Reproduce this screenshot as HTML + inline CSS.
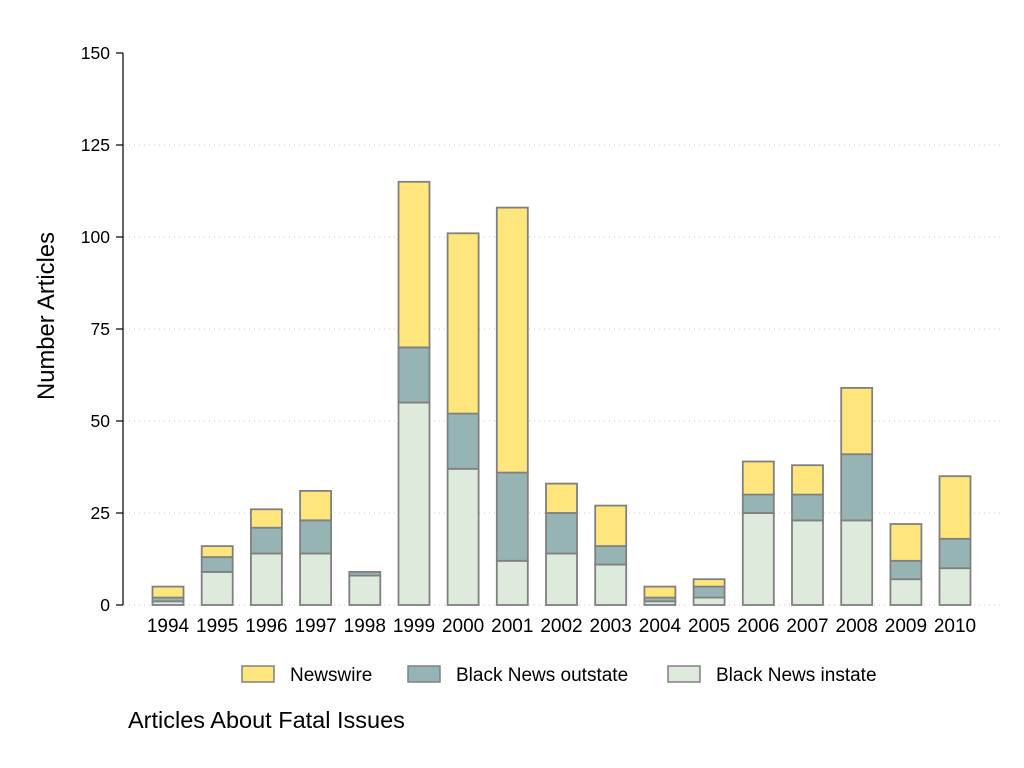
<!DOCTYPE html>
<html><head><meta charset="utf-8"><style>body{margin:0;background:#fff}svg{display:block}text{font-family:"Liberation Sans",Arial,sans-serif;fill:#000}</style></head>
<body>
<svg width="1024" height="768" viewBox="0 0 1024 768" xmlns="http://www.w3.org/2000/svg">
<rect width="1024" height="768" fill="#fff"/>
<g stroke="#c8c8c8" stroke-width="1" stroke-dasharray="1,4">
<line x1="124" x2="1000" y1="605" y2="605"/><line x1="124" x2="1000" y1="513" y2="513"/><line x1="124" x2="1000" y1="421" y2="421"/><line x1="124" x2="1000" y1="329" y2="329"/><line x1="124" x2="1000" y1="237" y2="237"/><line x1="124" x2="1000" y1="145" y2="145"/>
</g>
<g stroke="#000" stroke-width="1.2">
<line x1="123" x2="123" y1="53" y2="605"/>
<line x1="116" x2="123" y1="53" y2="53"/><line x1="116" x2="123" y1="145" y2="145"/><line x1="116" x2="123" y1="237" y2="237"/><line x1="116" x2="123" y1="329" y2="329"/><line x1="116" x2="123" y1="421" y2="421"/><line x1="116" x2="123" y1="513" y2="513"/><line x1="116" x2="123" y1="605" y2="605"/>
</g>
<g font-size="17.5" text-anchor="end">
<text x="110" y="59">150</text><text x="110" y="151">125</text><text x="110" y="243">100</text><text x="110" y="335">75</text><text x="110" y="427">50</text><text x="110" y="519">25</text><text x="110" y="611">0</text>
</g>
<text transform="translate(54,316) rotate(-90)" font-size="23.8" text-anchor="middle">Number Articles</text>
<g stroke="#808080" stroke-width="1.8">
<g fill="#deebdc">
<rect x="152.5" y="601.3" width="31" height="3.7"/><rect x="201.7" y="571.9" width="31" height="33.1"/><rect x="250.9" y="553.5" width="31" height="51.5"/><rect x="300.1" y="553.5" width="31" height="51.5"/><rect x="349.3" y="575.6" width="31" height="29.4"/><rect x="398.5" y="402.6" width="31" height="202.4"/><rect x="447.6" y="468.8" width="31" height="136.2"/><rect x="496.8" y="560.8" width="31" height="44.2"/><rect x="546" y="553.5" width="31" height="51.5"/><rect x="595.2" y="564.5" width="31" height="40.5"/><rect x="644.4" y="601.3" width="31" height="3.7"/><rect x="693.6" y="597.6" width="31" height="7.4"/><rect x="742.8" y="513" width="31" height="92"/><rect x="792" y="520.4" width="31" height="84.6"/><rect x="841.2" y="520.4" width="31" height="84.6"/><rect x="890.4" y="579.2" width="31" height="25.8"/><rect x="939.5" y="568.2" width="31" height="36.8"/>
</g>
<g fill="#96b4b4">
<rect x="152.5" y="597.6" width="31" height="3.7"/><rect x="201.7" y="557.2" width="31" height="14.7"/><rect x="250.9" y="527.7" width="31" height="25.8"/><rect x="300.1" y="520.4" width="31" height="33.1"/><rect x="349.3" y="571.9" width="31" height="3.7"/><rect x="398.5" y="347.4" width="31" height="55.2"/><rect x="447.6" y="413.6" width="31" height="55.2"/><rect x="496.8" y="472.5" width="31" height="88.3"/><rect x="546" y="513" width="31" height="40.5"/><rect x="595.2" y="546.1" width="31" height="18.4"/><rect x="644.4" y="597.6" width="31" height="3.7"/><rect x="693.6" y="586.6" width="31" height="11"/><rect x="742.8" y="494.6" width="31" height="18.4"/><rect x="792" y="494.6" width="31" height="25.8"/><rect x="841.2" y="454.2" width="31" height="66.2"/><rect x="890.4" y="560.8" width="31" height="18.4"/><rect x="939.5" y="538.8" width="31" height="29.4"/>
</g>
<g fill="#fee67d">
<rect x="152.5" y="586.6" width="31" height="11"/><rect x="201.7" y="546.1" width="31" height="11"/><rect x="250.9" y="509.3" width="31" height="18.4"/><rect x="300.1" y="490.9" width="31" height="29.4"/><rect x="398.5" y="181.8" width="31" height="165.6"/><rect x="447.6" y="233.3" width="31" height="180.3"/><rect x="496.8" y="207.6" width="31" height="265"/><rect x="546" y="483.6" width="31" height="29.4"/><rect x="595.2" y="505.6" width="31" height="40.5"/><rect x="644.4" y="586.6" width="31" height="11"/><rect x="693.6" y="579.2" width="31" height="7.4"/><rect x="742.8" y="461.5" width="31" height="33.1"/><rect x="792" y="465.2" width="31" height="29.4"/><rect x="841.2" y="387.9" width="31" height="66.3"/><rect x="890.4" y="524" width="31" height="36.8"/><rect x="939.5" y="476.2" width="31" height="62.6"/>
</g>
</g>
<g font-size="19" text-anchor="middle">
<text x="168" y="632">1994</text><text x="217.2" y="632">1995</text><text x="266.4" y="632">1996</text><text x="315.6" y="632">1997</text><text x="364.8" y="632">1998</text><text x="414" y="632">1999</text><text x="463.1" y="632">2000</text><text x="512.3" y="632">2001</text><text x="561.5" y="632">2002</text><text x="610.7" y="632">2003</text><text x="659.9" y="632">2004</text><text x="709.1" y="632">2005</text><text x="758.3" y="632">2006</text><text x="807.5" y="632">2007</text><text x="856.7" y="632">2008</text><text x="905.9" y="632">2009</text><text x="955" y="632">2010</text>
</g>
<g stroke="#808080" stroke-width="1.5">
<rect x="242" y="666" width="32" height="16" fill="#fee67d"/>
<rect x="408" y="666" width="32" height="16" fill="#96b4b4"/>
<rect x="668" y="666" width="32" height="16" fill="#deebdc"/>
</g>
<g font-size="19">
<text x="290" y="681">Newswire</text>
<text x="456" y="681">Black News outstate</text>
<text x="716" y="681">Black News instate</text>
</g>
<text x="128" y="728" font-size="23.5">Articles About Fatal Issues</text>
</svg>
</body></html>
